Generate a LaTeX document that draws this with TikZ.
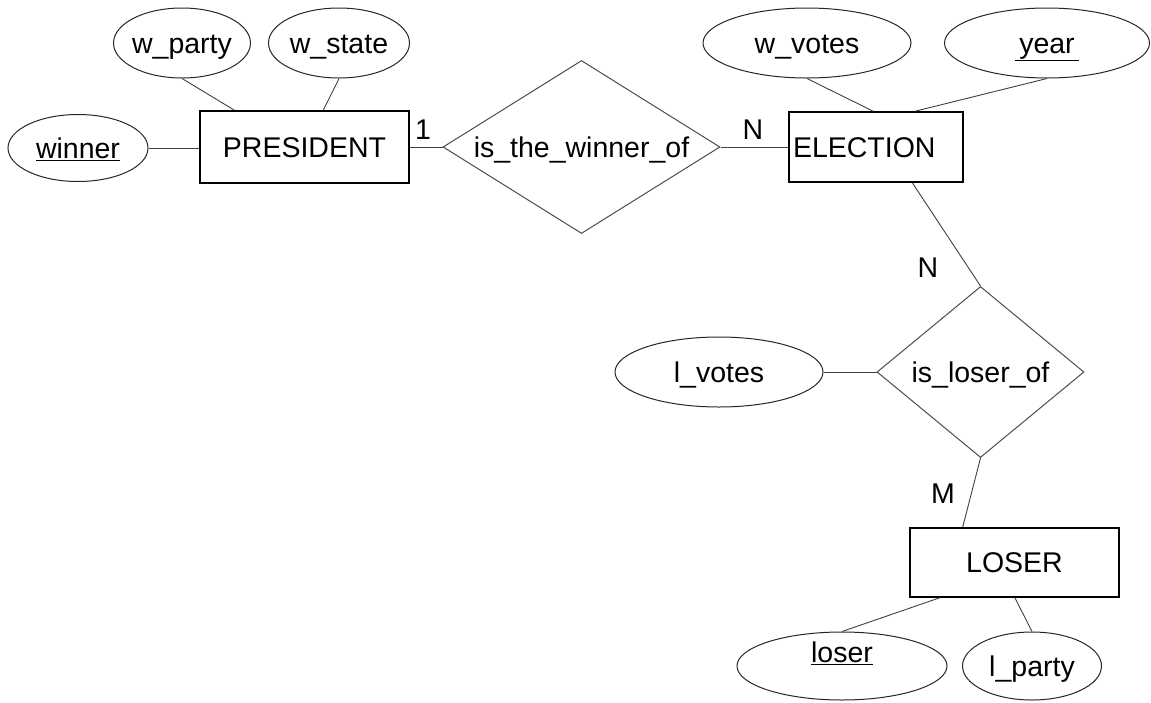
\documentclass[tikz,border=0pt]{standalone}
\usepackage{fontspec}
\setmainfont{Liberation Sans}
\usetikzlibrary{shapes.geometric,calc}

\tikzset{
  erfont/.style={font=\fontsize{28.5}{34}\selectfont, text height=26pt, text depth=5.6pt},
  attr/.style={erfont, ellipse, draw=black!85, line width=1pt, inner sep=0pt},
  entity/.style={erfont, rectangle, draw=black, line width=1.7pt, inner sep=0pt},
  relation/.style={erfont, diamond, draw=black!70, line width=1pt, inner sep=0pt},
  link/.style={draw=black!75, line width=0.9pt},
  card/.style={erfont, inner sep=0pt}
}

\begin{document}
\begin{tikzpicture}[x=1pt,y=-1pt]
\useasboundingbox (0,0) rectangle (1151,702);

% entities
\node[entity, minimum width=209pt, minimum height=72pt] (pres) at (304.5,147) {PRESIDENT};
\node[entity, minimum width=174pt, minimum height=70pt] (elec) at (876,147) {\makebox[166pt][l]{ELECTION}};
\node[entity, minimum width=209pt, minimum height=69pt] (losbox) at (1014.5,562.5) {LOSER};

% relationships
\node[relation, minimum width=277pt, minimum height=173pt] (win) at (581.5,147) {\makebox[0pt]{is\_the\_winner\_of}};
\node[relation, minimum width=207pt, minimum height=171pt] (lose) at (980.5,372) {\makebox[0pt]{is\_loser\_of}};

% attributes
\node[attr, minimum width=140pt, minimum height=67pt] (winner) at (78,148) {\makebox[0pt]{\underline{winner}}};
\node[attr, minimum width=137pt, minimum height=70pt] (wparty) at (182,43) {\makebox[0pt]{w\_party}};
\node[attr, minimum width=141pt, minimum height=70pt] (wstate) at (339,43) {\makebox[0pt]{w\_state}};
\node[attr, minimum width=208pt, minimum height=70pt] (wvotes) at (807,43) {\makebox[0pt]{w\_votes}};
\node[attr, minimum width=205pt, minimum height=70pt] (year) at (1047,43) {\makebox[0pt]{\underline{\hspace{4pt}year\hspace{4pt}}}};
\node[attr, minimum width=208pt, minimum height=70pt] (lvotes) at (719,372) {\makebox[0pt]{l\_votes}};
\node[attr, minimum width=210pt, minimum height=68pt] (loser) at (842,666) {\makebox[0pt]{\raisebox{14pt}{\underline{loser}}}};
\node[attr, minimum width=139pt, minimum height=68pt] (lparty) at (1032,666) {\makebox[0pt]{l\_party}};

% cardinalities
\node[card] (c1) at (423,129) {1};
\node[card] (c2) at (753,129) {N};
\node[card] (c3) at (928,267) {N};
\node[card] (c4) at (943,493) {M};

% connectors
\draw[link] (winner.east) -- (winner.east -| pres.west);
\draw[link] (wparty.south) -- ($(pres.north west)!0.167!(pres.north east)$);
\draw[link] (wstate.south) -- ($(pres.north west)!0.589!(pres.north east)$);
\draw[link] (pres.east) -- (win.west);
\draw[link] (win.east) -- (elec.west);
\draw[link] (wvotes.south) -- ($(elec.north west)!0.483!(elec.north east)$);
\draw[link] (year.south) -- ($(elec.north west)!0.724!(elec.north east)$);
\draw[link] ($(elec.south west)!0.707!(elec.south east)$) -- (lose.north);
\draw[link] (lvotes.east) -- (lose.west);
\draw[link] (lose.south) -- ($(losbox.north west)!0.254!(losbox.north east)$);
\draw[link] ($(losbox.south west)!0.144!(losbox.south east)$) -- (loser.north);
\draw[link] ($(losbox.south west)!0.502!(losbox.south east)$) -- (lparty.north);
\end{tikzpicture}
\end{document}
